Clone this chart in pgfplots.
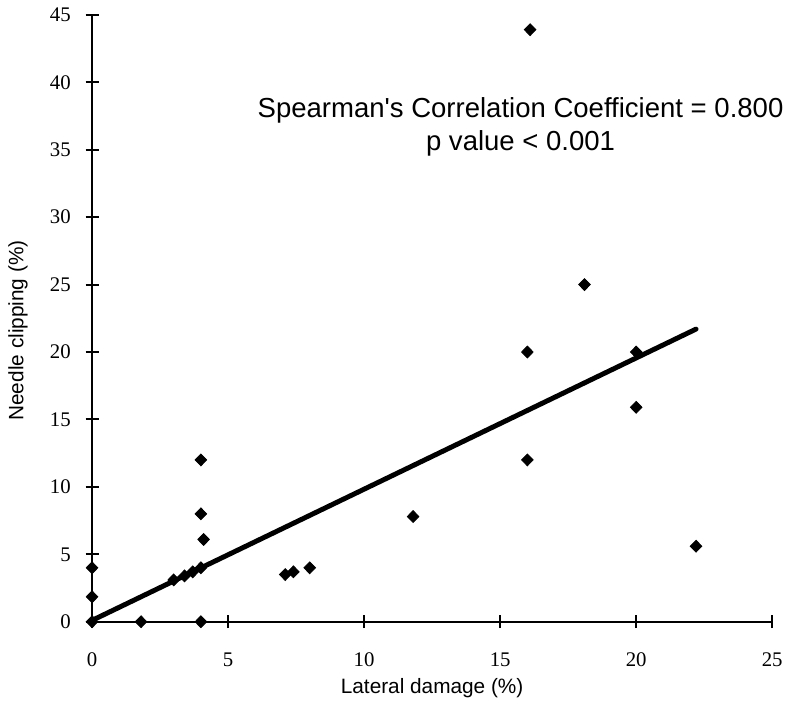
\documentclass[border=0pt]{standalone}
\usepackage{fontspec}
\setmainfont{Liberation Serif}
\newfontfamily\arial{Liberation Sans}
\usepackage{pgfplots}
\pgfplotsset{compat=1.18}

\begin{document}
\begin{tikzpicture}
\begin{axis}[
  name=main, at={(0,0)}, anchor=south west,
  scale only axis, width=343.5pt, height=306.5pt,
  xmin=0, xmax=25, ymin=0, ymax=45,
  axis lines=left, axis line style={line width=1pt, -},
  xtick={0,5,...,25}, ytick={0,5,...,45},
  tick align=center, major tick length=6.5pt,
  tick style={line width=1pt, black},
  /pgf/number format/assume math mode=true,
  ticklabel style={font=\fontsize{10.5}{12}\selectfont},
  xticklabel style={yshift=-9pt},
  yticklabel style={xshift=-4pt},
  clip=false,
  xlabel={Lateral damage (\%)},
  ylabel={Needle clipping (\%)},
  label style={font=\arial\fontsize{10.5}{12}\selectfont},
  xlabel style={at={(axis description cs:0.5,0)}, anchor=center, yshift=-33.5pt},
  ylabel style={at={(axis description cs:-0.109,0.48)}, anchor=center, rotate=0},
]
% regression line
\addplot[black, line width=2.5pt, line cap=round] coordinates {(0,0.1) (22.2,21.7)};
% observations
\addplot[only marks, mark=diamond*, mark size=3pt, mark options={xscale=1.3}, black] coordinates {
  (0,0) (0,1.85) (0,4)
  (1.8,0) (4,0)
  (3.0,3.1) (3.4,3.4) (3.7,3.7) (4,4)
  (4,12) (4,8) (4.1,6.1)
  (7.1,3.5) (7.4,3.7) (8,4)
  (11.8,7.8)
  (16,20) (16,12) (16.1,43.9)
  (18.1,25)
  (20,20) (20,15.9)
  (22.2,5.6)
};
\node[font=\arial\fontsize{13.9}{17}\selectfont, align=center] at (axis cs:15.75,36.7)
  {Spearman's Correlation Coefficient = 0.800\\p value < 0.001};
\end{axis}
\path[use as bounding box] (-46.5pt,-41.5pt) rectangle (348.5pt,314pt);
\end{tikzpicture}
\end{document}
